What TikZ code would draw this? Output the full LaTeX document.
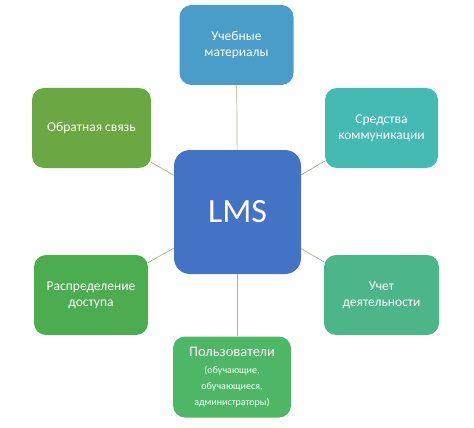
\documentclass[tikz,border=0pt]{standalone}
\usepackage{fontspec}
\setmainfont{Carlito}
\definecolor{cTop}{HTML}{4A9DC9}
\definecolor{cUL}{HTML}{6BA743}
\definecolor{cUR}{HTML}{45BAB3}
\definecolor{cLMS}{HTML}{4472C4}
\definecolor{cLL}{HTML}{4CAD50}
\definecolor{cLR}{HTML}{4DB689}
\definecolor{cBot}{HTML}{4DB765}
\definecolor{cLine}{HTML}{A8B48C}
\begin{document}
\begin{tikzpicture}[x=1pt,y=-1pt,
  box/.style={rounded corners=12pt, minimum width=115pt, minimum height=80pt, align=center, text=white, inner sep=2pt, font=\fontsize{13.5}{16}\selectfont},
  conn/.style={draw=cLine, line width=0.7pt}]
\useasboundingbox (0,0) rectangle (474,428);
\node[box, fill=cLMS, minimum width=127pt, minimum height=124pt, rounded corners=16pt, font=\fontsize{34}{40}\selectfont] (lms) at (237.5,212) {LMS};
\node[box, fill=cTop, minimum width=114pt] (top) at (236.5,45) {Учебные\\материалы};
\node[box, fill=cUL, minimum width=119pt] (ul) at (91.5,128) {Обратная связь};
\node[box, fill=cUR, minimum width=113pt] (ur) at (381.5,128) {Средства\\коммуникации};
\node[box, fill=cLL, minimum width=114pt] (ll) at (91,295) {Распределение\\доступа};
\node[box, fill=cLR, minimum width=115pt] (lr) at (381.5,295) {Учет\\деятельности};
\node[box, fill=cBot, minimum width=118pt, minimum height=81pt] (bot) at (232,377) {{\fontsize{14.5}{17}\selectfont Пользователи}\\[1pt]{\fontsize{10}{11}\selectfont (обучающие,}\\{\fontsize{10}{11}\selectfont обучающиеся,}\\{\fontsize{10}{11}\selectfont администраторы)}};
\draw[conn] (lms) -- (top);
\draw[conn] (lms) -- (ul);
\draw[conn] (lms) -- (ur);
\draw[conn] (lms) -- (ll);
\draw[conn] (lms) -- (lr);
\draw[conn] (lms.south) -- (lms.south |- bot.north);
\end{tikzpicture}
\end{document}
